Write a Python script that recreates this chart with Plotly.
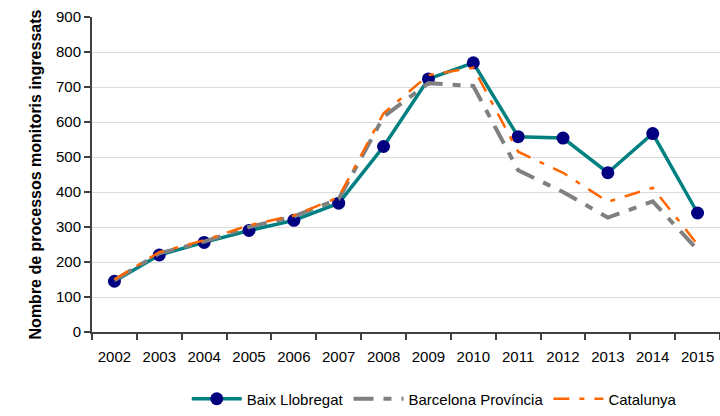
import plotly.graph_objects as go

years = ["2002", "2003", "2004", "2005", "2006", "2007", "2008",
         "2009", "2010", "2011", "2012", "2013", "2014", "2015"]
baix_llobregat = [145, 220, 256, 290, 319, 368, 530, 723, 769, 558, 554, 455, 567, 340]
barcelona_provincia = [148, 225, 258, 300, 330, 380, 615, 711, 703, 462, 400, 327, 373, 235]
catalunya = [150, 228, 262, 305, 333, 385, 625, 734, 755, 515, 455, 372, 412, 250]

FONT = "Liberation Sans, Arial, sans-serif"

fig = go.Figure()
fig.add_trace(go.Scatter(
    x=years, y=baix_llobregat, name="Baix Llobregat", mode="lines+markers",
    line=dict(color="#008080", width=3.5),
    marker=dict(color="#000080", size=13),
))
fig.add_trace(go.Scatter(
    x=years, y=barcelona_provincia, name="Barcelona Província", mode="lines",
    line=dict(color="#808080", width=4, dash="20px,10px,8px,10px"),
))
fig.add_trace(go.Scatter(
    x=years, y=catalunya, name="Catalunya", mode="lines",
    line=dict(color="#FF6600", width=2.5, dash="16px,10px,5px,10px"),
))

fig.update_layout(
    width=720, height=416,
    margin=dict(l=92, r=0, t=17, b=84),
    paper_bgcolor="white", plot_bgcolor="white",
    font=dict(family=FONT, size=15, color="#000000"),
    showlegend=True,
    legend=dict(orientation="h", x=0.545, xanchor="center", y=-0.265, yanchor="bottom",
                font=dict(family=FONT, size=15), itemwidth=50,
                traceorder="normal"),
    xaxis=dict(
        type="category", range=[-0.5, 13.5], tickson="boundaries",
        showline=True, linecolor="#404040", linewidth=1.5,
        ticks="outside", ticklen=6, tickcolor="#404040", tickwidth=1.5,
        showgrid=False, tickfont=dict(size=15), automargin=False,
        ticklabelstandoff=10,
    ),
    yaxis=dict(
        range=[0, 900], dtick=100, automargin=False,
        showline=True, linecolor="#404040", linewidth=2,
        ticks="outside", ticklen=6, tickcolor="#404040", tickwidth=1.5,
        showgrid=True, gridcolor="#dcdcdc", gridwidth=1,
        zeroline=False, tickfont=dict(size=15),
        title=dict(text="<b>Nombre de processos monitoris ingressats</b>",
                   font=dict(family=FONT, size=16), standoff=10),
    ),
)

fig.write_html("out.html", config={"displayModeBar": False},
               post_script="document.body.style.margin='0';")
